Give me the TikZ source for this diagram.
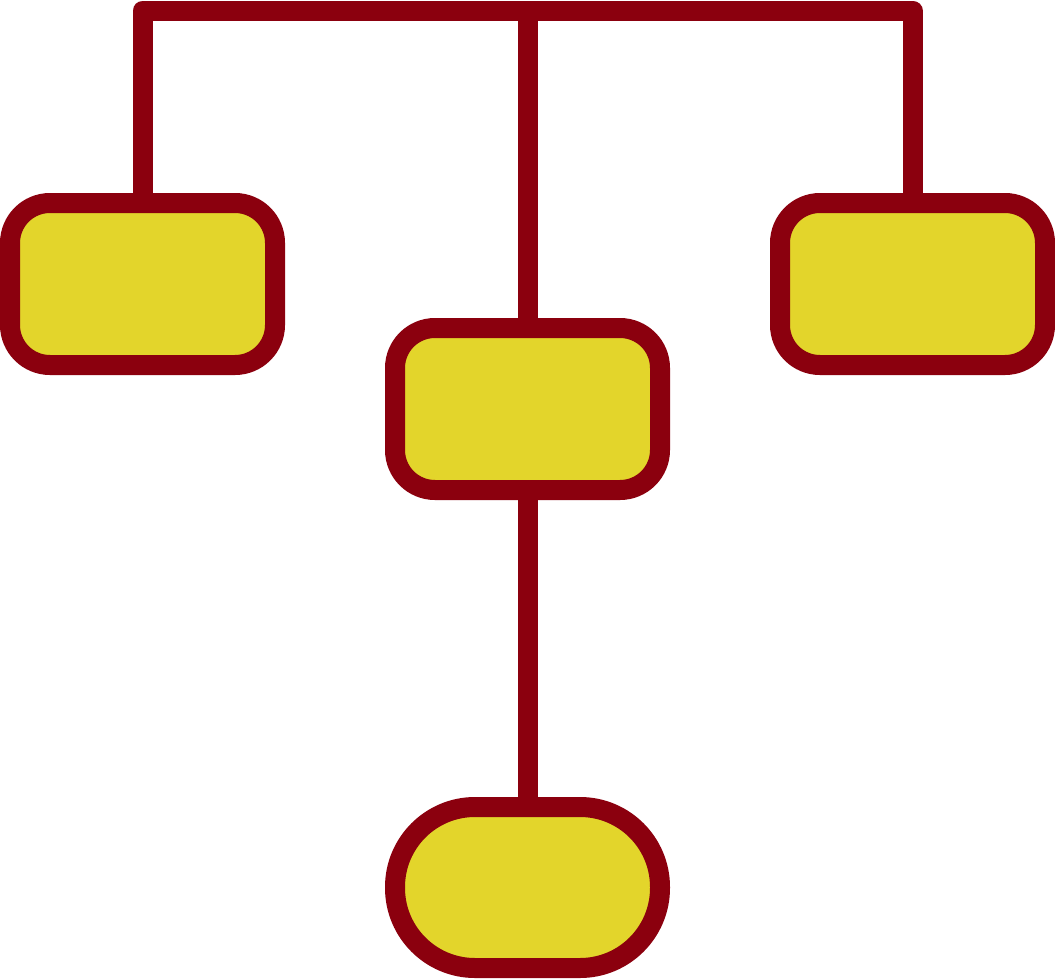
\documentclass[tikz,border=0pt]{standalone}
\definecolor{wine}{RGB}{139,0,14}
\definecolor{lemon}{RGB}{227,213,43}
\begin{document}
\begin{tikzpicture}[x=1pt,y=-1pt,
  boxnode/.style={draw=wine, fill=lemon, line width=20pt, rectangle, rounded corners=40pt,
    minimum width=265pt, minimum height=162pt, inner sep=0pt, outer sep=0pt},
  pillnode/.style={boxnode, rounded corners=80pt, minimum height=161pt},
  link/.style={draw=wine, line width=20pt, line join=round}]
\useasboundingbox (0,0) rectangle (1055,980);
\node[boxnode] (L) at (142.5,284) {};
\node[boxnode] (R) at (912.5,284) {};
\node[boxnode] (M) at (527.5,409) {};
\node[pillnode] (B) at (527.5,887.5) {};
\coordinate (bar) at (0,10.5);
\draw[link] (L.north) -- (L.north |- bar) -- (R.north |- bar) -- (R.north);
\draw[link] (M.north) -- (M.north |- bar);
\draw[link] (M.south) -- (B.north);
\end{tikzpicture}
\end{document}
